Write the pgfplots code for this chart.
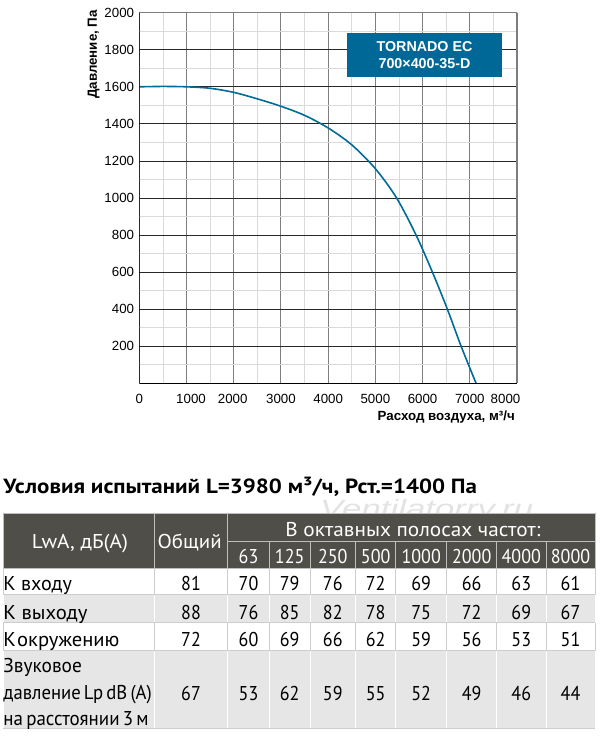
\documentclass[border=0pt]{standalone}
\usepackage{pgfplots}
\pgfplotsset{compat=1.18}
\usepackage{graphicx}
\usepackage{fontspec}
\setmainfont{Liberation Sans}
\newfontfamily\tabfont[FakeStretch=0.9]{PT Sans}
\newfontfamily\titfont{PT Sans}
\definecolor{curve}{RGB}{0,108,152}
\definecolor{boxblue}{RGB}{0,104,150}
\definecolor{hdr}{RGB}{80,78,72}
\definecolor{rowgray}{RGB}{230,230,230}
\definecolor{minorgrid}{RGB}{218,218,218}
\definecolor{majorx}{RGB}{125,125,125}
\definecolor{majory}{RGB}{40,40,40}
\definecolor{hline}{RGB}{190,190,190}
\definecolor{bline}{RGB}{205,205,205}
\newcommand{\tf}{\tabfont\fontsize{20bp}{26bp}\selectfont}
\newcommand{\fw}[2]{\resizebox{#1bp}{\height}{\tf #2}}
\begin{document}
\begin{tikzpicture}[x=1bp,y=1bp]
\path[use as bounding box, fill=white] (0,0) rectangle (600,736);
\begin{axis}[
  at={(139.3bp,352.7bp)}, anchor=south west, scale only axis,
  width=377.7bp, height=370.6bp,
  xmin=0, xmax=8000, ymin=0, ymax=2000,
  xtick={0,1000,2000,3000,4000,5000,6000,7000,8000},
  xticklabels={0,{\hspace*{9bp}1000},{2000\hspace*{2bp}},3000,4000,5000,6000,7000,{8000\hspace*{23bp}}},
  ytick={200,400,600,800,1000,1200,1400,1600,1800,2000},
  yticklabels={200,400,600,800,1000,1200,1400,1600,1800,2000},
  minor xtick={500,1500,2500,3500,4500,5500,6500,7500},
  minor ytick={100,300,500,700,900,1100,1300,1500,1700,1900},
  grid=both,
  major x grid style={draw=majorx, line width=1.1bp},
  major y grid style={draw=majory, line width=0.8bp},
  minor grid style={draw=minorgrid, line width=0.8bp},
  major tick length=0pt, minor tick length=0pt,
  axis line style={draw=none},
  tick label style={font=\fontsize{13.3bp}{16bp}\selectfont},
  xticklabel style={anchor=north, yshift=-7.4bp},
  yticklabel style={anchor=east, xshift=-1.7bp},
  clip=true,
]
\addplot[curve, line width=1.6bp, smooth] coordinates {
(0,1600)(500,1602)(1000,1600)(1500,1592)(2000,1570)(2500,1535)(3000,1495)
(3500,1446)(4000,1378)(4500,1287)(5000,1158)(5450,1000)(5862,800)
(6208,600)(6525,400)(6816,200)(7133,0)};
\draw[majorx, line width=1.1bp] (axis cs:0,2000) -- (axis cs:8000,2000) -- (axis cs:8000,0);
\draw[black, line width=1.3bp] (axis cs:0,2000) -- (axis cs:0,0) -- (axis cs:8000,0);
\end{axis}
\begin{scope}[y=-1bp, shift={(0,736bp)}]
% chart labels
\node[rotate=90, anchor=east, inner sep=0pt, font=\bfseries\fontsize{13.3bp}{16bp}\selectfont] at (93.5,10) {Давление, Па};
\node[anchor=base east, inner sep=0pt, font=\bfseries\fontsize{13.3bp}{16bp}\selectfont] at (515,421) {Расход воздуха, м³/ч};
\node[fill=boxblue, minimum width=154.4bp, minimum height=44bp, inner sep=0pt, text=white, align=center,
  font=\bfseries\fontsize{14.3bp}{17.6bp}\selectfont] at (424.5,55.3) {TORNADO EC\\700×400-35-D};
% title
\node[anchor=base west, inner sep=0pt] at (3.3,494)
  {\resizebox{473.5bp}{\height}{\titfont\fontsize{20.5bp}{24bp}\selectfont\bfseries Условия испытаний L=3980 м³/ч, Рст.=1400 Па}};
% watermark (partly hidden by the table)
\begin{scope}
\clip (0,470) rectangle (600,514);
\node[anchor=base west, inner sep=0pt, text=black!11] at (320,518)
  {\resizebox{213bp}{\height}{\itshape\fontsize{25bp}{25bp}\selectfont Ventilatorry.ru}};
\end{scope}
% table fills
\fill[hdr] (3,514) rectangle (595,568.3);
\fill[white] (3,568.3) rectangle (595,595);
\fill[rowgray] (3,595) rectangle (595,623);
\fill[white] (3,623) rectangle (595,651);
\fill[rowgray] (3,651) rectangle (595,729);
% header lines
\draw[hline, line width=1bp] (3,514) rectangle (595,568.3);
\draw[hline, line width=1bp] (154.3,514) -- (154.3,568.3) (227.7,514) -- (227.7,568.3) (227.7,541.5) -- (595,541.5);
\foreach \c in {269.3,310,355.7,395.7,446.7,496.7,546} {\draw[hline, line width=1bp] (\c,541.5) -- (\c,568.3);}
% body lines
\foreach \c in {3,154.3,227.7,269.3,310,355.7,395.7,446.7,496.7,546,595} {
  \draw[bline, line width=1bp] (\c,568.3) -- (\c,595);
  \draw[white, line width=1bp] (\c,595) -- (\c,623);
  \draw[bline, line width=1bp] (\c,623) -- (\c,651);
  \draw[white, line width=1bp] (\c,651) -- (\c,729);
}
\draw[bline, line width=1bp] (3,595) -- (595,595) (3,623) -- (595,623) (3,651) -- (595,651) (3,729) -- (595,729);
% header text
\node[anchor=base, inner sep=0pt, text=white] at (80,549) {\fw{96}{LwA, дБ(А)}};
\node[anchor=base, inner sep=0pt, text=white] at (189.7,549) {\fw{64}{Общий}};
\node[anchor=base, inner sep=0pt, text=white] at (412.9,536.5) {\fw{255}{В октавных полосах частот:}};
\foreach \x/\t in {248.5/63,289.7/125,332.8/250,375.7/500,421.2/1000,471.7/2000,521.3/4000,570.5/8000}
  {\node[anchor=base, inner sep=0pt, text=white, font=\tf] at (\x,563.3) {\t};}
% row labels
\node[anchor=base west, inner sep=0pt] at (3.3,590.5) {\fw{68.4}{К входу}};
\node[anchor=base west, inner sep=0pt] at (3.3,619.5) {\fw{84}{К выходу}};
\node[anchor=base west, inner sep=0pt] at (3.3,646.5) {\fw{116}{К\hspace{1bp}окружению}};
\node[anchor=base west, inner sep=0pt] at (3.3,673) {\fw{78.4}{Звуковое}};
\node[anchor=base west, inner sep=0pt] at (3.3,700) {\fw{148.4}{давление\hspace{3bp}Lp\hspace{3bp}dB\hspace{3bp}(A)}};
\node[anchor=base west, inner sep=0pt] at (3.3,726) {\fw{145}{на\hspace{3bp}расстоянии\hspace{3bp}3\hspace{3bp}м}};
% values
\foreach \x/\a/\b/\cc/\d in {191/81/88/72/67, 248.5/70/76/60/53, 289.7/79/85/69/62, 332.8/76/82/66/59,
   375.7/72/78/62/55, 421.2/69/75/59/52, 471.7/66/72/56/49, 521.3/63/69/53/46, 570.5/61/67/51/44} {
  \node[anchor=base, inner sep=0pt, font=\tf] at (\x,590.5) {\a};
  \node[anchor=base, inner sep=0pt, font=\tf] at (\x,619.5) {\b};
  \node[anchor=base, inner sep=0pt, font=\tf] at (\x,646.5) {\cc};
  \node[anchor=base, inner sep=0pt, font=\tf] at (\x,700.5) {\d};
}
\end{scope}
\end{tikzpicture}
\end{document}
